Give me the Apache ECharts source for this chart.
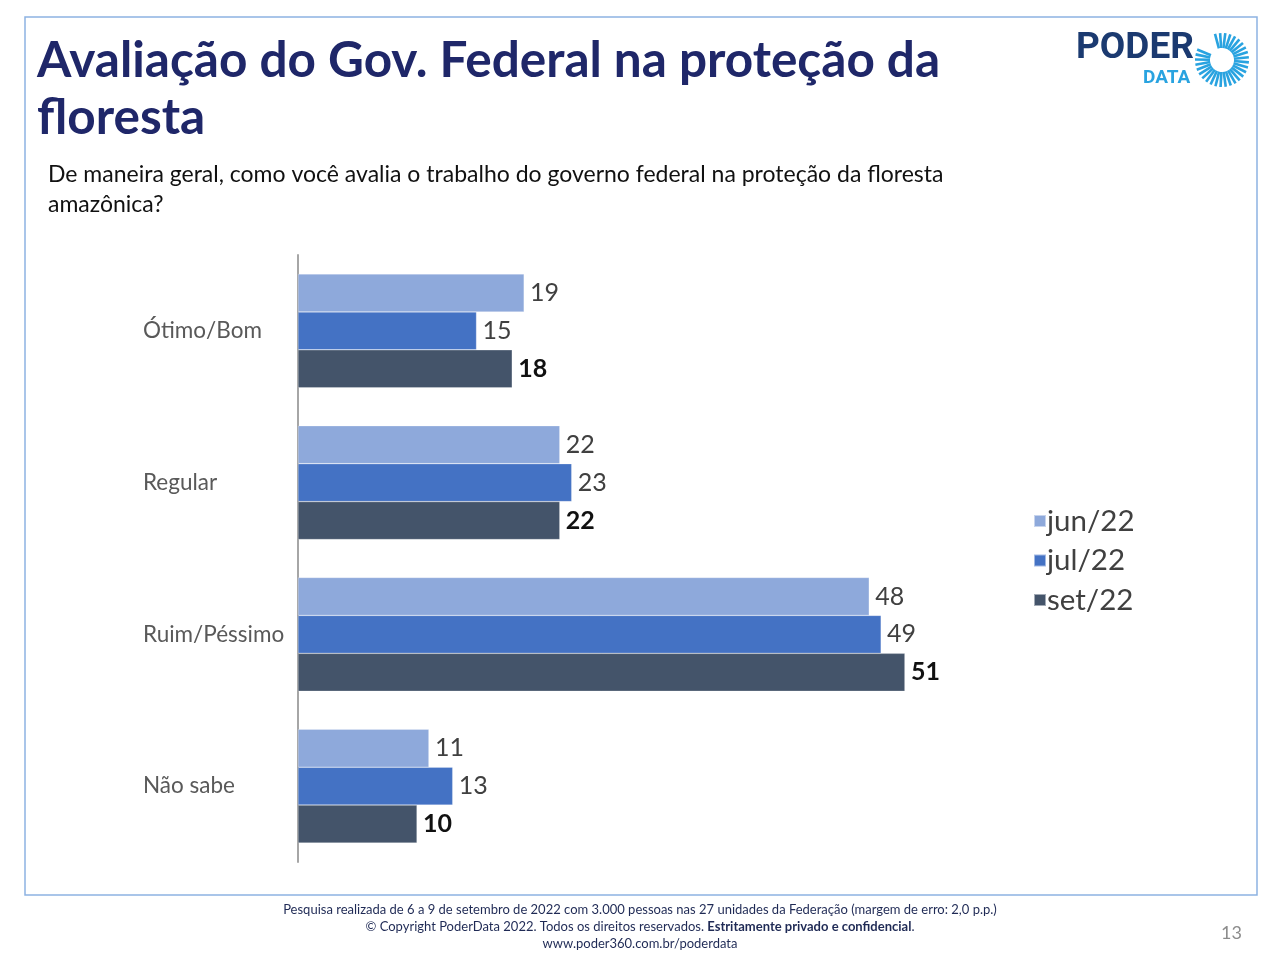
<!DOCTYPE html>
<html>
<head>
<meta charset="utf-8">
<script src="https://cdn.jsdelivr.net/npm/echarts@6/dist/echarts.min.js"></script>
<style>
  html, body { margin: 0; padding: 0; background: #fff; }
  #chart { width: 1280px; height: 959px; }
</style>
</head>
<body>
<div id="chart"></div>
<script>
// dados da pesquisa
const categories = ['Ótimo/Bom', 'Regular', 'Ruim/Péssimo', 'Não sabe'];
const seriesNames = ['jun/22', 'jul/22', 'set/22'];
const jun22 = [19, 22, 48, 11];
const jul22 = [15, 23, 49, 13];
const set22 = [18, 22, 51, 10];
const footerLines = [
    'Pesquisa realizada de 6 a 9 de setembro de 2022 com 3.000 pessoas nas 27 unidades da Federação (margem de erro: 2,0 p.p.)',
    '© Copyright PoderData 2022. Todos os direitos reservados. {b|Estritamente privado e confidencial}.',
    'www.poder360.com.br/poderdata'
];

const FONT = 'Lato, "Open Sans", sans-serif';
const colors = ['#8EA9DB', '#4472C4', '#44546A'];

// raios do logo
function logoRays() {
    const rays = [];
    const cx = 1222, cy = 60;
    for (let a = -105; a <= 205; a += 11) {
        const r = a * Math.PI / 180;
        rays.push({
            type: 'line',
            shape: {
                x1: cx + Math.cos(r) * 12, y1: cy + Math.sin(r) * 12,
                x2: cx + Math.cos(r) * 27, y2: cy + Math.sin(r) * 27
            },
            style: { stroke: '#29A3E0', lineWidth: 2.6 }
        });
    }
    return rays;
}

// rodapé, uma linha por texto centrado
function footer() {
    return footerLines.map((t, i) => ({
        type: 'text', x: 640, y: 903 + i * 17,
        style: {
            text: t,
            align: 'center',
            font: '13px ' + FONT, fill: '#1F2A55',
            rich: { b: { fontWeight: 'bold', fontFamily: FONT, fontSize: 13, fill: '#1F2A55' } }
        }
    }));
}

const chart = echarts.init(document.getElementById('chart'));

function makeSeries(name, data, i) {
    const last = i === 2;
    return {
        name: name,
        type: 'bar',
        data: data,
        barGap: '0%',
        barCategoryGap: '25%',
        itemStyle: { color: colors[i], borderColor: 'rgba(255,255,255,0.5)', borderWidth: 0.5 },
        label: {
            show: true,
            position: 'right',
            distance: 6,
            fontFamily: FONT,
            fontSize: 25,
            fontWeight: last ? 'bold' : 'normal',
            color: last ? '#111' : '#404040'
        }
    };
}

const option = {
    animation: false,
    backgroundColor: '#fff',
    grid: { left: 298, top: 255, width: 714, height: 607, containLabel: false },
    xAxis: { type: 'value', min: 0, max: 60, show: false },
    yAxis: {
        type: 'category',
        data: categories,
        inverse: true,
        axisLine: { show: true, lineStyle: { color: '#A6A6A6', width: 2 } },
        axisTick: { show: false },
        axisLabel: {
            margin: 155,
            align: 'left',
            fontFamily: FONT,
            fontSize: 22.5,
            color: '#595959'
        }
    },
    legend: {
        orient: 'vertical',
        left: 1028,
        top: 501,
        itemWidth: 12,
        itemHeight: 12,
        itemGap: 9.5,
        icon: 'rect',
        data: seriesNames,
        textStyle: { fontFamily: FONT, fontSize: 29.5, color: '#404040', padding: [0, 0, 0, -4] }
    },
    series: [
        makeSeries(seriesNames[0], jun22, 0),
        makeSeries(seriesNames[1], jul22, 1),
        makeSeries(seriesNames[2], set22, 2)
    ],
    graphic: [
        {
            type: 'rect',
            shape: { x: 25, y: 17, width: 1232, height: 878 },
            style: { fill: 'none', stroke: '#8DB3E2', lineWidth: 1.5 },
            z: -1
        },
        {
            type: 'text', left: 37, top: 33,
            style: {
                text: 'Avaliação do Gov. Federal na proteção da\nfloresta',
                font: 'bold 49.5px ' + FONT, fill: '#1F2769', lineHeight: 57
            }
        },
        {
            type: 'text', left: 48, top: 160,
            style: {
                text: 'De maneira geral, como você avalia o trabalho do governo federal na proteção da floresta\namazônica?',
                font: '23px ' + FONT, fill: '#111', lineHeight: 30
            }
        },
        {
            type: 'text', left: 1076, top: 30,
            style: { text: 'PODER', font: 'bold 37px Roboto, sans-serif', fill: '#1B3A70' }
        },
        {
            type: 'text', left: 1143, top: 69,
            style: { text: 'DATA', font: 'bold 19px Roboto, sans-serif', fill: '#29A3E0' }
        },
        ...logoRays(),
        ...footer(),
        {
            type: 'text', left: 1221, top: 924,
            style: { text: '13', font: '18px ' + FONT, fill: '#8C8C8C' }
        }
    ]
};

chart.setOption(option);
window.addEventListener('resize', () => chart.resize());
</script>
</body>
</html>
